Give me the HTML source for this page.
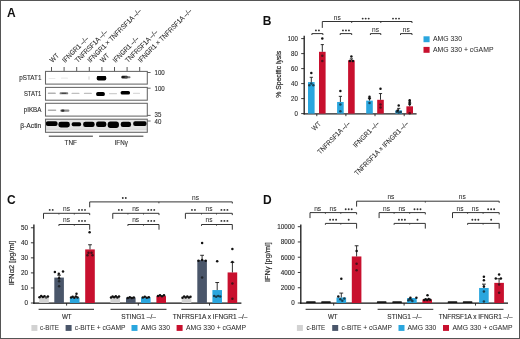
<!DOCTYPE html>
<html><head><meta charset="utf-8"><style>
html,body{margin:0;padding:0;background:#fff;}
svg{display:block;font-family:"Liberation Sans", sans-serif;}
text{opacity:0.995;}
</style></head><body>
<svg width="520" height="339" viewBox="0 0 520 339">
<rect width="520" height="339" fill="#fff"/>
<g>
<rect x="0.5" y="0.5" width="519" height="338" fill="none" stroke="#555" stroke-width="1"/>
<text class="h" x="7" y="16.8" font-size="12" text-anchor="start" font-weight="bold" fill="#111" >A</text>
<line x1="51.5" y1="67" x2="51.5" y2="71.4" stroke="#444" stroke-width="0.9"/>
<text transform="translate(52.5,63.0) rotate(-45)" font-size="7.06" text-anchor="start" font-weight="normal" fill="#2a2a2a" stroke="#2a2a2a" stroke-width="0.08" textLength="9.79" lengthAdjust="spacingAndGlyphs" >WT</text>
<line x1="64.1" y1="67" x2="64.1" y2="71.4" stroke="#444" stroke-width="0.9"/>
<text transform="translate(65.1,63.0) rotate(-45)" font-size="7.06" text-anchor="start" font-weight="normal" fill="#2a2a2a" stroke="#2a2a2a" stroke-width="0.08" textLength="33.61" lengthAdjust="spacingAndGlyphs" >IFNGR1 –/–</text>
<line x1="76.7" y1="67" x2="76.7" y2="71.4" stroke="#444" stroke-width="0.9"/>
<text transform="translate(77.7,63.0) rotate(-45)" font-size="7.06" text-anchor="start" font-weight="normal" fill="#2a2a2a" stroke="#2a2a2a" stroke-width="0.08" textLength="42.71" lengthAdjust="spacingAndGlyphs" >TNFRSF1A –/–</text>
<line x1="89.3" y1="67" x2="89.3" y2="71.4" stroke="#444" stroke-width="0.9"/>
<text transform="translate(90.3,63.0) rotate(-45)" font-size="7.06" text-anchor="start" font-weight="normal" fill="#2a2a2a" stroke="#2a2a2a" stroke-width="0.08" textLength="72.88" lengthAdjust="spacingAndGlyphs" >IFNGR1 × TNFRSF1A –/–</text>
<line x1="101.9" y1="67" x2="101.9" y2="71.4" stroke="#444" stroke-width="0.9"/>
<text transform="translate(102.9,63.0) rotate(-45)" font-size="7.06" text-anchor="start" font-weight="normal" fill="#2a2a2a" stroke="#2a2a2a" stroke-width="0.08" textLength="9.79" lengthAdjust="spacingAndGlyphs" >WT</text>
<line x1="114.5" y1="67" x2="114.5" y2="71.4" stroke="#444" stroke-width="0.9"/>
<text transform="translate(115.5,63.0) rotate(-45)" font-size="7.06" text-anchor="start" font-weight="normal" fill="#2a2a2a" stroke="#2a2a2a" stroke-width="0.08" textLength="33.61" lengthAdjust="spacingAndGlyphs" >IFNGR1 –/–</text>
<line x1="127.1" y1="67" x2="127.1" y2="71.4" stroke="#444" stroke-width="0.9"/>
<text transform="translate(128.1,63.0) rotate(-45)" font-size="7.06" text-anchor="start" font-weight="normal" fill="#2a2a2a" stroke="#2a2a2a" stroke-width="0.08" textLength="42.71" lengthAdjust="spacingAndGlyphs" >TNFRSF1A –/–</text>
<line x1="139.7" y1="67" x2="139.7" y2="71.4" stroke="#444" stroke-width="0.9"/>
<text transform="translate(140.7,63.0) rotate(-45)" font-size="7.06" text-anchor="start" font-weight="normal" fill="#2a2a2a" stroke="#2a2a2a" stroke-width="0.08" textLength="72.88" lengthAdjust="spacingAndGlyphs" >IFNGR1 × TNFRSF1A –/–</text>
<rect x="45.5" y="119.2" width="101.8" height="13.1" fill="#e2e2e2" />
<rect x="45.5" y="128.8" width="101.8" height="1.4" fill="#dadada" />
<rect x="45.5" y="130.2" width="101.8" height="2.1" fill="#f2f2f2" />
<defs><filter id="bl" x="-20%" y="-50%" width="140%" height="200%"><feGaussianBlur stdDeviation="0.45"/></filter><filter id="bl2" x="-20%" y="-50%" width="140%" height="200%"><feGaussianBlur stdDeviation="0.6"/></filter></defs>
<rect x="48.5" y="77.9" width="7" height="1.2" rx="0.6" fill="#ddd" opacity="0.6" filter="url(#bl2)"/>
<rect x="61" y="77.6" width="7" height="1.2" rx="0.6" fill="#ddd" opacity="0.6" filter="url(#bl2)"/>
<rect x="88" y="76" width="2" height="4" rx="2" fill="#ccc" opacity="0.5" filter="url(#bl2)"/>
<rect x="96.7" y="75.9" width="9.6" height="4.6" rx="1.8" fill="#000" opacity="1" filter="url(#bl)"/>
<rect x="97" y="76" width="9" height="2" rx="1" fill="#000" opacity="1" filter="url(#bl)"/>
<rect x="121.35" y="75.8" width="6.5" height="2.6" rx="1.2" fill="#111" opacity="0.95" filter="url(#bl)"/>
<rect x="124.5" y="76.2" width="6" height="2" rx="1" fill="#555" opacity="0.8" filter="url(#bl)"/>
<rect x="47.8" y="92.5" width="8" height="1.6" rx="0.7" fill="#999" opacity="0.75" filter="url(#bl2)"/>
<rect x="59.6" y="92.3" width="8.6" height="2" rx="0.9" fill="#666" opacity="0.85" filter="url(#bl2)"/>
<rect x="61.4" y="92.7" width="5" height="1.2" rx="0.6" fill="#333" opacity="0.7" filter="url(#bl2)"/>
<rect x="71.5" y="92.7" width="8" height="1.4" rx="0.6" fill="#aaa" opacity="0.75" filter="url(#bl2)"/>
<rect x="83.9" y="92.7" width="8" height="1.4" rx="0.6" fill="#aaa" opacity="0.75" filter="url(#bl2)"/>
<rect x="96.2" y="92" width="8.6" height="4" rx="1.6" fill="#000" opacity="1" filter="url(#bl)"/>
<rect x="109" y="93.05" width="8" height="1.1" rx="0.5" fill="#bbb" opacity="0.7" filter="url(#bl2)"/>
<rect x="120.6" y="90.9" width="9.4" height="3.6" rx="1.6" fill="#050505" opacity="1" filter="url(#bl)"/>
<rect x="133" y="92.85" width="7" height="1.1" rx="0.5" fill="#ccc" opacity="0.7" filter="url(#bl2)"/>
<rect x="47.75" y="109.5" width="8.5" height="1.4" rx="0.6" fill="#999" opacity="0.8" filter="url(#bl2)"/>
<rect x="60.2" y="109.5" width="9.2" height="2.2" rx="1" fill="#777" opacity="0.85" filter="url(#bl2)"/>
<rect x="61.2" y="109.6" width="3.2" height="2.2" rx="1" fill="#222" opacity="0.9" filter="url(#bl2)"/>
<rect x="45.8" y="121.3" width="11.8" height="4.8" rx="2.02" fill="#000" opacity="1" filter="url(#bl)"/>
<rect x="58.35" y="121.65" width="11.5" height="5.9" rx="2.48" fill="#000" opacity="1" filter="url(#bl)"/>
<rect x="71.65" y="122.35" width="9.5" height="3.9" rx="1.64" fill="#000" opacity="1" filter="url(#bl)"/>
<rect x="83.15" y="121.65" width="11.5" height="5.3" rx="2.23" fill="#000" opacity="1" filter="url(#bl)"/>
<rect x="96.05" y="121.45" width="10.3" height="5.5" rx="2.31" fill="#000" opacity="1" filter="url(#bl)"/>
<rect x="107.7" y="121.6" width="11.2" height="6.4" rx="2.69" fill="#000" opacity="1" filter="url(#bl)"/>
<rect x="120.7" y="121.8" width="10.4" height="5.2" rx="2.18" fill="#000" opacity="1" filter="url(#bl)"/>
<rect x="133.2" y="121.35" width="13.4" height="4.7" rx="1.97" fill="#000" opacity="1" filter="url(#bl)"/>
<rect x="45.5" y="71.4" width="101.8" height="12.7" fill="none" stroke="#666" stroke-width="1.05"/>
<text class="h" x="41.4" y="79.7" font-size="7.01" text-anchor="end" font-weight="normal" fill="#2b2b2b" stroke="#2b2b2b" stroke-width="0.12" textLength="22.1" lengthAdjust="spacingAndGlyphs" >pSTAT1</text>
<rect x="45.5" y="87.4" width="101.8" height="12.8" fill="none" stroke="#666" stroke-width="1.05"/>
<text class="h" x="41.4" y="95.6" font-size="7.01" text-anchor="end" font-weight="normal" fill="#2b2b2b" stroke="#2b2b2b" stroke-width="0.12" textLength="17.5" lengthAdjust="spacingAndGlyphs" >STAT1</text>
<rect x="45.5" y="103.3" width="101.8" height="12.8" fill="none" stroke="#666" stroke-width="1.05"/>
<text class="h" x="41.4" y="111.5" font-size="7.01" text-anchor="end" font-weight="normal" fill="#2b2b2b" stroke="#2b2b2b" stroke-width="0.12" textLength="17.7" lengthAdjust="spacingAndGlyphs" >pIKBA</text>
<rect x="45.5" y="119.2" width="101.8" height="13.1" fill="none" stroke="#666" stroke-width="1.05"/>
<text class="h" x="41.4" y="127.6" font-size="7.01" text-anchor="end" font-weight="normal" fill="#2b2b2b" stroke="#2b2b2b" stroke-width="0.12" textLength="21.2" lengthAdjust="spacingAndGlyphs" >β-Actin</text>
<line x1="147.3" y1="72.5" x2="150.6" y2="72.5" stroke="#555" stroke-width="0.9"/>
<text class="h" x="154.5" y="74.5" font-size="7.2" text-anchor="start" font-weight="normal" fill="#2b2b2b" stroke="#2b2b2b" stroke-width="0.12" textLength="10.18" lengthAdjust="spacingAndGlyphs" >100</text>
<line x1="147.3" y1="88.2" x2="150.6" y2="88.2" stroke="#555" stroke-width="0.9"/>
<text class="h" x="154.5" y="90.7" font-size="7.2" text-anchor="start" font-weight="normal" fill="#2b2b2b" stroke="#2b2b2b" stroke-width="0.12" textLength="10.18" lengthAdjust="spacingAndGlyphs" >100</text>
<line x1="147.3" y1="115.4" x2="150.6" y2="115.4" stroke="#555" stroke-width="0.9"/>
<text class="h" x="154.5" y="116.9" font-size="7.2" text-anchor="start" font-weight="normal" fill="#2b2b2b" stroke="#2b2b2b" stroke-width="0.12" textLength="6.79" lengthAdjust="spacingAndGlyphs" >35</text>
<line x1="147.3" y1="121" x2="150.6" y2="121" stroke="#555" stroke-width="0.9"/>
<text class="h" x="154.5" y="123.5" font-size="7.2" text-anchor="start" font-weight="normal" fill="#2b2b2b" stroke="#2b2b2b" stroke-width="0.12" textLength="6.79" lengthAdjust="spacingAndGlyphs" >40</text>
<line x1="48.8" y1="136.2" x2="92.9" y2="136.2" stroke="#333" stroke-width="1"/>
<line x1="99.1" y1="136.2" x2="143.4" y2="136.2" stroke="#333" stroke-width="1"/>
<text class="h" x="70.7" y="145.1" font-size="6.93" text-anchor="middle" font-weight="normal" fill="#2b2b2b" stroke="#2b2b2b" stroke-width="0.12" textLength="12.3" lengthAdjust="spacingAndGlyphs" >TNF</text>
<text class="h" x="121.2" y="145.1" font-size="6.93" text-anchor="middle" font-weight="normal" fill="#2b2b2b" stroke="#2b2b2b" stroke-width="0.12" textLength="13.2" lengthAdjust="spacingAndGlyphs" >IFNγ</text>
<text class="h" x="262.8" y="24.6" font-size="12" text-anchor="start" font-weight="bold" fill="#111" >B</text>
<line x1="304.2" y1="35.8" x2="304.2" y2="114.5" stroke="#222" stroke-width="1.35"/>
<line x1="301.2" y1="113.6" x2="304.2" y2="113.6" stroke="#222" stroke-width="0.9"/>
<text class="h" x="297.9" y="115.5" font-size="6.59" text-anchor="end" font-weight="normal" fill="#2b2b2b" stroke="#2b2b2b" stroke-width="0.12" textLength="3.39" lengthAdjust="spacingAndGlyphs" >0</text>
<line x1="301.2" y1="98.6" x2="304.2" y2="98.6" stroke="#222" stroke-width="0.9"/>
<text class="h" x="297.9" y="100.5" font-size="6.59" text-anchor="end" font-weight="normal" fill="#2b2b2b" stroke="#2b2b2b" stroke-width="0.12" textLength="6.79" lengthAdjust="spacingAndGlyphs" >20</text>
<line x1="301.2" y1="83.6" x2="304.2" y2="83.6" stroke="#222" stroke-width="0.9"/>
<text class="h" x="297.9" y="85.5" font-size="6.59" text-anchor="end" font-weight="normal" fill="#2b2b2b" stroke="#2b2b2b" stroke-width="0.12" textLength="6.79" lengthAdjust="spacingAndGlyphs" >40</text>
<line x1="301.2" y1="68.6" x2="304.2" y2="68.6" stroke="#222" stroke-width="0.9"/>
<text class="h" x="297.9" y="70.5" font-size="6.59" text-anchor="end" font-weight="normal" fill="#2b2b2b" stroke="#2b2b2b" stroke-width="0.12" textLength="6.79" lengthAdjust="spacingAndGlyphs" >60</text>
<line x1="301.2" y1="53.6" x2="304.2" y2="53.6" stroke="#222" stroke-width="0.9"/>
<text class="h" x="297.9" y="55.5" font-size="6.59" text-anchor="end" font-weight="normal" fill="#2b2b2b" stroke="#2b2b2b" stroke-width="0.12" textLength="6.79" lengthAdjust="spacingAndGlyphs" >80</text>
<line x1="301.2" y1="38.6" x2="304.2" y2="38.6" stroke="#222" stroke-width="0.9"/>
<text class="h" x="297.9" y="40.5" font-size="6.59" text-anchor="end" font-weight="normal" fill="#2b2b2b" stroke="#2b2b2b" stroke-width="0.12" textLength="10.18" lengthAdjust="spacingAndGlyphs" >100</text>
<line x1="303.6" y1="113.9" x2="416.6" y2="113.9" stroke="#222" stroke-width="1.35"/>
<text transform="translate(280.9,74.3) rotate(-90)" font-size="7.8" text-anchor="middle" font-weight="normal" fill="#2b2b2b" stroke="#2b2b2b" stroke-width="0.22" textLength="47" lengthAdjust="spacingAndGlyphs" >% Specific lysis</text>
<line x1="316.8" y1="114" x2="316.8" y2="116.2" stroke="#222" stroke-width="0.9"/>
<line x1="345.9" y1="114" x2="345.9" y2="116.2" stroke="#222" stroke-width="0.9"/>
<line x1="375" y1="114" x2="375" y2="116.2" stroke="#222" stroke-width="0.9"/>
<line x1="404.2" y1="114" x2="404.2" y2="116.2" stroke="#222" stroke-width="0.9"/>
<rect x="308" y="82.1" width="6.6" height="31.5" fill="#2aa6de" />
<line x1="311.3" y1="77.3" x2="311.3" y2="82.1" stroke="#1a1a1a" stroke-width="0.9"/>
<line x1="309.7" y1="77.3" x2="312.9" y2="77.3" stroke="#1a1a1a" stroke-width="0.9"/>
<circle cx="311.3" cy="73.1" r="1.25" fill="#111"/>
<circle cx="309.3" cy="85.32" r="1.25" fill="#1a4559"/>
<circle cx="313.3" cy="85.32" r="1.25" fill="#1a4559"/>
<circle cx="311.3" cy="83.6" r="1.25" fill="#1a4559"/>
<rect x="319" y="51.8" width="6.6" height="61.8" fill="#c8102e" />
<line x1="322.3" y1="44.6" x2="322.3" y2="51.8" stroke="#1a1a1a" stroke-width="0.9"/>
<line x1="320.7" y1="44.6" x2="323.9" y2="44.6" stroke="#1a1a1a" stroke-width="0.9"/>
<circle cx="322.3" cy="38.6" r="1.25" fill="#111"/>
<circle cx="322.3" cy="55.85" r="1.25" fill="#51111b"/>
<circle cx="322.3" cy="61.1" r="1.25" fill="#51111b"/>
<rect x="337.1" y="101.97" width="6.6" height="11.62" fill="#2aa6de" />
<line x1="340.4" y1="96.35" x2="340.4" y2="101.97" stroke="#1a1a1a" stroke-width="0.9"/>
<line x1="338.8" y1="96.35" x2="342" y2="96.35" stroke="#1a1a1a" stroke-width="0.9"/>
<circle cx="340.4" cy="91.1" r="1.25" fill="#111"/>
<circle cx="340.4" cy="104.6" r="1.25" fill="#1a4559"/>
<circle cx="340.4" cy="111.35" r="1.25" fill="#1a4559"/>
<rect x="348.1" y="60.35" width="6.6" height="53.25" fill="#c8102e" />
<line x1="351.4" y1="58.85" x2="351.4" y2="60.35" stroke="#1a1a1a" stroke-width="0.9"/>
<line x1="349.8" y1="58.85" x2="353" y2="58.85" stroke="#1a1a1a" stroke-width="0.9"/>
<circle cx="351.4" cy="56.6" r="1.25" fill="#111"/>
<circle cx="349.9" cy="61.1" r="1.25" fill="#111"/>
<circle cx="352.9" cy="61.1" r="1.25" fill="#111"/>
<rect x="366.2" y="100.62" width="6.6" height="12.97" fill="#2aa6de" />
<line x1="369.5" y1="98.22" x2="369.5" y2="100.62" stroke="#1a1a1a" stroke-width="0.9"/>
<line x1="367.9" y1="98.22" x2="371.1" y2="98.22" stroke="#1a1a1a" stroke-width="0.9"/>
<circle cx="369.5" cy="96.72" r="1.25" fill="#111"/>
<circle cx="369.5" cy="98.6" r="1.25" fill="#111"/>
<circle cx="369.5" cy="103.1" r="1.25" fill="#1a4559"/>
<rect x="377.2" y="99.8" width="6.6" height="13.8" fill="#c8102e" />
<line x1="380.5" y1="93.57" x2="380.5" y2="99.8" stroke="#1a1a1a" stroke-width="0.9"/>
<line x1="378.9" y1="93.57" x2="382.1" y2="93.57" stroke="#1a1a1a" stroke-width="0.9"/>
<circle cx="380.5" cy="88.85" r="1.25" fill="#111"/>
<circle cx="380.5" cy="104.6" r="1.25" fill="#51111b"/>
<circle cx="380.5" cy="107.6" r="1.25" fill="#51111b"/>
<rect x="395.4" y="110.38" width="6.6" height="3.22" fill="#2aa6de" />
<line x1="398.7" y1="108.35" x2="398.7" y2="110.38" stroke="#1a1a1a" stroke-width="0.9"/>
<line x1="397.1" y1="108.35" x2="400.3" y2="108.35" stroke="#1a1a1a" stroke-width="0.9"/>
<circle cx="398.7" cy="105.57" r="1.25" fill="#111"/>
<circle cx="396.7" cy="111.72" r="1.25" fill="#1a4559"/>
<circle cx="398.7" cy="112.47" r="1.25" fill="#1a4559"/>
<circle cx="400.7" cy="111.95" r="1.25" fill="#1a4559"/>
<circle cx="397.7" cy="110.6" r="1.25" fill="#111"/>
<rect x="406.4" y="106.32" width="6.6" height="7.28" fill="#c8102e" />
<line x1="409.7" y1="103.1" x2="409.7" y2="106.32" stroke="#1a1a1a" stroke-width="0.9"/>
<line x1="408.1" y1="103.1" x2="411.3" y2="103.1" stroke="#1a1a1a" stroke-width="0.9"/>
<circle cx="409.7" cy="100.32" r="1.25" fill="#111"/>
<circle cx="409.7" cy="101.97" r="1.25" fill="#111"/>
<circle cx="409.7" cy="104.22" r="1.25" fill="#111"/>
<circle cx="409.7" cy="113.22" r="1.25" fill="#51111b"/>
<text transform="translate(321.4,124.2) rotate(-45)" font-size="7" text-anchor="end" font-weight="normal" fill="#2a2a2a" stroke="#2a2a2a" stroke-width="0.06" textLength="9.8" lengthAdjust="spacingAndGlyphs" >WT</text>
<text transform="translate(350.5,124.2) rotate(-45)" font-size="7" text-anchor="end" font-weight="normal" fill="#2a2a2a" stroke="#2a2a2a" stroke-width="0.06" textLength="42.73" lengthAdjust="spacingAndGlyphs" >TNFRSF1A –/–</text>
<text transform="translate(379.6,124.2) rotate(-45)" font-size="7" text-anchor="end" font-weight="normal" fill="#2a2a2a" stroke="#2a2a2a" stroke-width="0.06" textLength="33.63" lengthAdjust="spacingAndGlyphs" >IFNGR1 –/–</text>
<text transform="translate(408.8,124.2) rotate(-45)" font-size="7" text-anchor="end" font-weight="normal" fill="#2a2a2a" stroke="#2a2a2a" stroke-width="0.06" textLength="73.03" lengthAdjust="spacingAndGlyphs" >TNFRSF1A × IFNGR1 –/–</text>
<polyline points="322.3,27.9 322.3,21.5 412,21.5 412,23" fill="none" stroke="#333" stroke-width="1"/>
<line x1="351.7" y1="21.5" x2="351.7" y2="23" stroke="#333" stroke-width="0.9"/>
<line x1="380.8" y1="21.5" x2="380.8" y2="23" stroke="#333" stroke-width="0.9"/>
<text class="h" x="337.3" y="20.2" font-size="6.6" text-anchor="middle" font-weight="normal" fill="#2b2b2b" stroke="#2b2b2b" stroke-width="0.04" >ns</text>
<circle cx="362.7" cy="18.6" r="0.95" fill="#333"/>
<circle cx="365.7" cy="18.6" r="0.95" fill="#333"/>
<circle cx="368.7" cy="18.6" r="0.95" fill="#333"/>
<circle cx="393" cy="18.6" r="0.95" fill="#333"/>
<circle cx="396" cy="18.6" r="0.95" fill="#333"/>
<circle cx="399" cy="18.6" r="0.95" fill="#333"/>
<polyline points="311.9,35 311.9,33.6 322.9,33.6 322.9,35" fill="none" stroke="#333" stroke-width="1"/>
<circle cx="315.9" cy="30.4" r="0.95" fill="#333"/>
<circle cx="318.9" cy="30.4" r="0.95" fill="#333"/>
<polyline points="340.2,35 340.2,33.6 351.7,33.6 351.7,35" fill="none" stroke="#333" stroke-width="1"/>
<circle cx="342.95" cy="30.4" r="0.95" fill="#333"/>
<circle cx="345.95" cy="30.4" r="0.95" fill="#333"/>
<circle cx="348.95" cy="30.4" r="0.95" fill="#333"/>
<polyline points="370.4,35 370.4,33.6 380.8,33.6 380.8,35" fill="none" stroke="#333" stroke-width="1"/>
<text class="h" x="375.6" y="32" font-size="6.6" text-anchor="middle" font-weight="normal" fill="#2b2b2b" stroke="#2b2b2b" stroke-width="0.04" >ns</text>
<polyline points="400.5,35 400.5,33.6 412,33.6 412,35" fill="none" stroke="#333" stroke-width="1"/>
<text class="h" x="406.25" y="32" font-size="6.6" text-anchor="middle" font-weight="normal" fill="#2b2b2b" stroke="#2b2b2b" stroke-width="0.04" >ns</text>
<rect x="423.5" y="36.3" width="6.1" height="5.9" fill="#2aa6de" />
<rect x="423.5" y="46.9" width="6.1" height="5.9" fill="#c8102e" />
<text class="h" x="433" y="41" font-size="6.8" text-anchor="start" font-weight="normal" fill="#2b2b2b" stroke="#2b2b2b" stroke-width="0.03" textLength="29" lengthAdjust="spacingAndGlyphs" >AMG 330</text>
<text class="h" x="433" y="51.6" font-size="6.8" text-anchor="start" font-weight="normal" fill="#2b2b2b" stroke="#2b2b2b" stroke-width="0.03" textLength="60.5" lengthAdjust="spacingAndGlyphs" >AMG 330 + cGAMP</text>
<text class="h" x="7" y="204" font-size="12" text-anchor="start" font-weight="bold" fill="#111" >C</text>
<line x1="33.9" y1="224.4" x2="33.9" y2="303.8" stroke="#1e1e1e" stroke-width="1.35"/>
<line x1="30.9" y1="303" x2="33.9" y2="303" stroke="#222" stroke-width="0.9"/>
<text class="h" x="27.9" y="305.3" font-size="7.24" text-anchor="end" font-weight="normal" fill="#2b2b2b" stroke="#2b2b2b" stroke-width="0.14" textLength="3.5" lengthAdjust="spacingAndGlyphs" >0</text>
<line x1="30.9" y1="287.95" x2="33.9" y2="287.95" stroke="#222" stroke-width="0.9"/>
<text class="h" x="27.9" y="290.25" font-size="7.24" text-anchor="end" font-weight="normal" fill="#2b2b2b" stroke="#2b2b2b" stroke-width="0.14" textLength="7.01" lengthAdjust="spacingAndGlyphs" >10</text>
<line x1="30.9" y1="272.9" x2="33.9" y2="272.9" stroke="#222" stroke-width="0.9"/>
<text class="h" x="27.9" y="275.2" font-size="7.24" text-anchor="end" font-weight="normal" fill="#2b2b2b" stroke="#2b2b2b" stroke-width="0.14" textLength="7.01" lengthAdjust="spacingAndGlyphs" >20</text>
<line x1="30.9" y1="257.85" x2="33.9" y2="257.85" stroke="#222" stroke-width="0.9"/>
<text class="h" x="27.9" y="260.15" font-size="7.24" text-anchor="end" font-weight="normal" fill="#2b2b2b" stroke="#2b2b2b" stroke-width="0.14" textLength="7.01" lengthAdjust="spacingAndGlyphs" >30</text>
<line x1="30.9" y1="242.8" x2="33.9" y2="242.8" stroke="#222" stroke-width="0.9"/>
<text class="h" x="27.9" y="245.1" font-size="7.24" text-anchor="end" font-weight="normal" fill="#2b2b2b" stroke="#2b2b2b" stroke-width="0.14" textLength="7.01" lengthAdjust="spacingAndGlyphs" >40</text>
<line x1="30.9" y1="227.75" x2="33.9" y2="227.75" stroke="#222" stroke-width="0.9"/>
<text class="h" x="27.9" y="230.05" font-size="7.24" text-anchor="end" font-weight="normal" fill="#2b2b2b" stroke="#2b2b2b" stroke-width="0.14" textLength="7.01" lengthAdjust="spacingAndGlyphs" >50</text>
<text transform="translate(14.3,263) rotate(-90)" font-size="7" text-anchor="middle" font-weight="normal" fill="#2b2b2b" stroke="#2b2b2b" stroke-width="0.16" textLength="44.6" lengthAdjust="spacingAndGlyphs" >IFNα2 [pg/ml]</text>
<line x1="33.3" y1="303.2" x2="241.4" y2="303.2" stroke="#111" stroke-width="1.3"/>
<line x1="66.6" y1="303" x2="66.6" y2="305.6" stroke="#222" stroke-width="0.9"/>
<line x1="138.3" y1="303" x2="138.3" y2="305.6" stroke="#222" stroke-width="0.9"/>
<line x1="209.5" y1="303" x2="209.5" y2="305.6" stroke="#222" stroke-width="0.9"/>
<rect x="39.2" y="296.53" width="9.6" height="6.47" fill="#d2d2d2" />
<circle cx="39.5" cy="297.28" r="1.25" fill="#111"/>
<circle cx="41.2" cy="295.93" r="1.25" fill="#111"/>
<circle cx="42.9" cy="296.98" r="1.25" fill="#111"/>
<circle cx="44.5" cy="296.23" r="1.25" fill="#111"/>
<circle cx="46.2" cy="297.43" r="1.25" fill="#4b4b4b"/>
<circle cx="47.9" cy="296.38" r="1.25" fill="#111"/>
<rect x="54.3" y="277.57" width="9.6" height="25.43" fill="#4a566a" />
<line x1="59.1" y1="275.16" x2="59.1" y2="277.57" stroke="#1a1a1a" stroke-width="0.9"/>
<line x1="57.2" y1="275.16" x2="61" y2="275.16" stroke="#1a1a1a" stroke-width="0.9"/>
<circle cx="54.9" cy="272" r="1.25" fill="#111"/>
<circle cx="63" cy="271.39" r="1.25" fill="#111"/>
<circle cx="58.8" cy="273.8" r="1.25" fill="#111"/>
<circle cx="59.1" cy="278.17" r="1.25" fill="#111"/>
<circle cx="59.1" cy="281.18" r="1.25" fill="#22262c"/>
<circle cx="59.1" cy="286.29" r="1.25" fill="#22262c"/>
<rect x="69.9" y="297.73" width="9.6" height="5.27" fill="#2aa6de" />
<circle cx="71.1" cy="297.58" r="1.25" fill="#111"/>
<circle cx="72.7" cy="296.68" r="1.25" fill="#111"/>
<circle cx="74.3" cy="297.73" r="1.25" fill="#111"/>
<circle cx="75.9" cy="296.53" r="1.25" fill="#111"/>
<circle cx="77.5" cy="297.58" r="1.25" fill="#111"/>
<circle cx="76.5" cy="293.82" r="1.25" fill="#111"/>
<rect x="85.2" y="249.42" width="9.6" height="53.58" fill="#c8102e" />
<line x1="90" y1="244.76" x2="90" y2="249.42" stroke="#1a1a1a" stroke-width="0.9"/>
<line x1="88.1" y1="244.76" x2="91.9" y2="244.76" stroke="#1a1a1a" stroke-width="0.9"/>
<circle cx="89.6" cy="232.26" r="1.25" fill="#111"/>
<circle cx="88.5" cy="252.73" r="1.25" fill="#48111a"/>
<circle cx="91.5" cy="252.73" r="1.25" fill="#48111a"/>
<circle cx="87.5" cy="255.14" r="1.25" fill="#48111a"/>
<circle cx="92.5" cy="255.14" r="1.25" fill="#48111a"/>
<rect x="110.4" y="297.13" width="9.6" height="5.87" fill="#d2d2d2" />
<circle cx="111" cy="297.58" r="1.25" fill="#111"/>
<circle cx="112.6" cy="296.38" r="1.25" fill="#111"/>
<circle cx="114.2" cy="297.28" r="1.25" fill="#111"/>
<circle cx="115.8" cy="296.23" r="1.25" fill="#111"/>
<circle cx="117.4" cy="297.43" r="1.25" fill="#111"/>
<circle cx="119" cy="296.53" r="1.25" fill="#111"/>
<rect x="126" y="297.58" width="9.6" height="5.42" fill="#4a566a" />
<circle cx="127.8" cy="297.88" r="1.25" fill="#111"/>
<circle cx="129.8" cy="297.28" r="1.25" fill="#111"/>
<circle cx="131.8" cy="298.03" r="1.25" fill="#111"/>
<circle cx="133.8" cy="297.43" r="1.25" fill="#111"/>
<rect x="141" y="297.58" width="9.6" height="5.42" fill="#2aa6de" />
<circle cx="142.8" cy="297.58" r="1.25" fill="#111"/>
<circle cx="144.8" cy="296.83" r="1.25" fill="#111"/>
<circle cx="146.8" cy="297.73" r="1.25" fill="#111"/>
<circle cx="148.8" cy="297.13" r="1.25" fill="#111"/>
<rect x="156.4" y="296.08" width="9.6" height="6.92" fill="#c8102e" />
<circle cx="158" cy="296.08" r="1.25" fill="#111"/>
<circle cx="160" cy="295.17" r="1.25" fill="#111"/>
<circle cx="162" cy="296.23" r="1.25" fill="#111"/>
<circle cx="164" cy="295.32" r="1.25" fill="#111"/>
<rect x="181.7" y="297.28" width="9.6" height="5.72" fill="#d2d2d2" />
<circle cx="182.5" cy="297.73" r="1.25" fill="#111"/>
<circle cx="184.1" cy="296.53" r="1.25" fill="#111"/>
<circle cx="185.7" cy="297.58" r="1.25" fill="#111"/>
<circle cx="187.3" cy="296.38" r="1.25" fill="#111"/>
<circle cx="188.9" cy="297.58" r="1.25" fill="#111"/>
<circle cx="190.5" cy="296.68" r="1.25" fill="#111"/>
<rect x="197.3" y="260.11" width="9.6" height="42.89" fill="#4a566a" />
<line x1="202.1" y1="255.29" x2="202.1" y2="260.11" stroke="#1a1a1a" stroke-width="0.9"/>
<line x1="200.2" y1="255.29" x2="204" y2="255.29" stroke="#1a1a1a" stroke-width="0.9"/>
<circle cx="202.1" cy="243.1" r="1.25" fill="#111"/>
<circle cx="198.5" cy="260.71" r="1.25" fill="#111"/>
<circle cx="205.7" cy="260.71" r="1.25" fill="#111"/>
<circle cx="202.1" cy="260.11" r="1.25" fill="#111"/>
<circle cx="202.1" cy="277.42" r="1.25" fill="#22262c"/>
<rect x="212.4" y="290.06" width="9.6" height="12.94" fill="#2aa6de" />
<line x1="217.2" y1="282.53" x2="217.2" y2="290.06" stroke="#1a1a1a" stroke-width="0.9"/>
<line x1="215.3" y1="282.53" x2="219.1" y2="282.53" stroke="#1a1a1a" stroke-width="0.9"/>
<circle cx="217.2" cy="261.31" r="1.25" fill="#111"/>
<circle cx="214.2" cy="296.08" r="1.25" fill="#183e4e"/>
<circle cx="216.2" cy="296.68" r="1.25" fill="#183e4e"/>
<circle cx="218.2" cy="296.08" r="1.25" fill="#183e4e"/>
<circle cx="220.2" cy="296.38" r="1.25" fill="#183e4e"/>
<rect x="227.6" y="272.45" width="9.6" height="30.55" fill="#c8102e" />
<line x1="232.4" y1="262.37" x2="232.4" y2="272.45" stroke="#1a1a1a" stroke-width="0.9"/>
<line x1="230.5" y1="262.37" x2="234.3" y2="262.37" stroke="#1a1a1a" stroke-width="0.9"/>
<circle cx="232.4" cy="249.12" r="1.25" fill="#111"/>
<circle cx="232.4" cy="262.06" r="1.25" fill="#111"/>
<circle cx="232.4" cy="283.44" r="1.25" fill="#48111a"/>
<circle cx="232.4" cy="298.79" r="1.25" fill="#48111a"/>
<line x1="38.6" y1="309.3" x2="94" y2="309.3" stroke="#222" stroke-width="1"/>
<text class="h" x="66.8" y="318.6" font-size="6.62" text-anchor="middle" font-weight="normal" fill="#2b2b2b" stroke="#2b2b2b" stroke-width="0.12" textLength="9.79" lengthAdjust="spacingAndGlyphs" >WT</text>
<line x1="110.5" y1="309.3" x2="166.5" y2="309.3" stroke="#222" stroke-width="1"/>
<text class="h" x="138.6" y="318.6" font-size="6.62" text-anchor="middle" font-weight="normal" fill="#2b2b2b" stroke="#2b2b2b" stroke-width="0.12" textLength="34.6" lengthAdjust="spacingAndGlyphs" >STING1 –/–</text>
<line x1="181.3" y1="309.3" x2="236.9" y2="309.3" stroke="#222" stroke-width="1"/>
<text class="h" x="210.1" y="318.6" font-size="6.62" text-anchor="middle" font-weight="normal" fill="#2b2b2b" stroke="#2b2b2b" stroke-width="0.12" textLength="74.7" lengthAdjust="spacingAndGlyphs" >TNFRSF1A x IFNGR1 –/–</text>
<polyline points="43.5,218.8 43.5,213.3 89.7,213.3 89.7,215.1" fill="none" stroke="#333" stroke-width="1"/>
<line x1="58.9" y1="213.3" x2="58.9" y2="214.5" stroke="#333" stroke-width="0.9"/>
<line x1="74.3" y1="213.3" x2="74.3" y2="214.5" stroke="#333" stroke-width="0.9"/>
<polyline points="58.9,225.9 58.9,224.5 89.7,224.5 89.7,229.7" fill="none" stroke="#333" stroke-width="1"/>
<line x1="74.3" y1="224.5" x2="74.3" y2="225.7" stroke="#333" stroke-width="0.9"/>
<circle cx="49.7" cy="209.9" r="0.95" fill="#333"/>
<circle cx="52.7" cy="209.9" r="0.95" fill="#333"/>
<text class="h" x="66.6" y="211.3" font-size="6.6" text-anchor="middle" font-weight="normal" fill="#2b2b2b" stroke="#2b2b2b" stroke-width="0.04" >ns</text>
<circle cx="79" cy="209.9" r="0.95" fill="#333"/>
<circle cx="82" cy="209.9" r="0.95" fill="#333"/>
<circle cx="85" cy="209.9" r="0.95" fill="#333"/>
<text class="h" x="66.6" y="222.4" font-size="6.6" text-anchor="middle" font-weight="normal" fill="#2b2b2b" stroke="#2b2b2b" stroke-width="0.04" >ns</text>
<circle cx="79" cy="220.9" r="0.95" fill="#333"/>
<circle cx="82" cy="220.9" r="0.95" fill="#333"/>
<circle cx="85" cy="220.9" r="0.95" fill="#333"/>
<polyline points="112.75,218.8 112.75,213.3 159,213.3 159,215.1" fill="none" stroke="#333" stroke-width="1"/>
<line x1="127.9" y1="213.3" x2="127.9" y2="214.5" stroke="#333" stroke-width="0.9"/>
<line x1="143.5" y1="213.3" x2="143.5" y2="214.5" stroke="#333" stroke-width="0.9"/>
<polyline points="127.9,225.9 127.9,224.5 159,224.5 159,229.7" fill="none" stroke="#333" stroke-width="1"/>
<line x1="143.5" y1="224.5" x2="143.5" y2="225.7" stroke="#333" stroke-width="0.9"/>
<circle cx="118.83" cy="209.9" r="0.95" fill="#333"/>
<circle cx="121.83" cy="209.9" r="0.95" fill="#333"/>
<text class="h" x="135.7" y="211.3" font-size="6.6" text-anchor="middle" font-weight="normal" fill="#2b2b2b" stroke="#2b2b2b" stroke-width="0.04" >ns</text>
<circle cx="148.25" cy="209.9" r="0.95" fill="#333"/>
<circle cx="151.25" cy="209.9" r="0.95" fill="#333"/>
<circle cx="154.25" cy="209.9" r="0.95" fill="#333"/>
<text class="h" x="135.7" y="222.4" font-size="6.6" text-anchor="middle" font-weight="normal" fill="#2b2b2b" stroke="#2b2b2b" stroke-width="0.04" >ns</text>
<circle cx="148.25" cy="220.9" r="0.95" fill="#333"/>
<circle cx="151.25" cy="220.9" r="0.95" fill="#333"/>
<circle cx="154.25" cy="220.9" r="0.95" fill="#333"/>
<polyline points="185.4,218.8 185.4,213.3 232.3,213.3 232.3,215.1" fill="none" stroke="#333" stroke-width="1"/>
<line x1="201.5" y1="213.3" x2="201.5" y2="214.5" stroke="#333" stroke-width="0.9"/>
<line x1="216.5" y1="213.3" x2="216.5" y2="214.5" stroke="#333" stroke-width="0.9"/>
<polyline points="201.5,225.9 201.5,224.5 232.3,224.5 232.3,229.7" fill="none" stroke="#333" stroke-width="1"/>
<line x1="216.5" y1="224.5" x2="216.5" y2="225.7" stroke="#333" stroke-width="0.9"/>
<circle cx="191.95" cy="209.9" r="0.95" fill="#333"/>
<circle cx="194.95" cy="209.9" r="0.95" fill="#333"/>
<text class="h" x="209" y="211.3" font-size="6.6" text-anchor="middle" font-weight="normal" fill="#2b2b2b" stroke="#2b2b2b" stroke-width="0.04" >ns</text>
<circle cx="221.4" cy="209.9" r="0.95" fill="#333"/>
<circle cx="224.4" cy="209.9" r="0.95" fill="#333"/>
<circle cx="227.4" cy="209.9" r="0.95" fill="#333"/>
<text class="h" x="209" y="222.4" font-size="6.6" text-anchor="middle" font-weight="normal" fill="#2b2b2b" stroke="#2b2b2b" stroke-width="0.04" >ns</text>
<circle cx="221.4" cy="220.9" r="0.95" fill="#333"/>
<circle cx="224.4" cy="220.9" r="0.95" fill="#333"/>
<circle cx="227.4" cy="220.9" r="0.95" fill="#333"/>
<polyline points="89.7,207.3 89.7,201.9 232.3,201.9 232.3,203.5" fill="none" stroke="#333" stroke-width="1"/>
<line x1="158.9" y1="201.9" x2="158.9" y2="203.3" stroke="#333" stroke-width="0.9"/>
<circle cx="122.8" cy="198" r="0.95" fill="#333"/>
<circle cx="125.8" cy="198" r="0.95" fill="#333"/>
<text class="h" x="195.6" y="199.8" font-size="6.6" text-anchor="middle" font-weight="normal" fill="#2b2b2b" stroke="#2b2b2b" stroke-width="0.04" >ns</text>
<rect x="31.4" y="325" width="6" height="5.9" fill="#d2d2d2" />
<text class="h" x="40.1" y="330.3" font-size="6.4" text-anchor="start" font-weight="normal" fill="#2b2b2b" stroke="#2b2b2b" stroke-width="0.03" textLength="18.8" lengthAdjust="spacingAndGlyphs" >c-BiTE</text>
<rect x="65.6" y="325" width="6" height="5.9" fill="#4a566a" />
<text class="h" x="74.8" y="330.3" font-size="6.4" text-anchor="start" font-weight="normal" fill="#2b2b2b" stroke="#2b2b2b" stroke-width="0.03" textLength="50.7" lengthAdjust="spacingAndGlyphs" >c-BiTE + cGAMP</text>
<rect x="131.5" y="325" width="6" height="5.9" fill="#2aa6de" />
<text class="h" x="141" y="330.3" font-size="6.4" text-anchor="start" font-weight="normal" fill="#2b2b2b" stroke="#2b2b2b" stroke-width="0.03" textLength="29" lengthAdjust="spacingAndGlyphs" >AMG 330</text>
<rect x="176.6" y="325" width="6" height="5.9" fill="#c8102e" />
<text class="h" x="185.9" y="330.3" font-size="6.4" text-anchor="start" font-weight="normal" fill="#2b2b2b" stroke="#2b2b2b" stroke-width="0.03" textLength="60.2" lengthAdjust="spacingAndGlyphs" >AMG 330 + cGAMP</text>
<text class="h" x="263" y="204" font-size="12" text-anchor="start" font-weight="bold" fill="#111" >D</text>
<line x1="300.8" y1="224.4" x2="300.8" y2="303.8" stroke="#1e1e1e" stroke-width="1.35"/>
<line x1="297.8" y1="303" x2="300.8" y2="303" stroke="#222" stroke-width="0.9"/>
<text class="h" x="294.8" y="305.3" font-size="7.24" text-anchor="end" font-weight="normal" fill="#2b2b2b" stroke="#2b2b2b" stroke-width="0.14" textLength="3.5" lengthAdjust="spacingAndGlyphs" >0</text>
<line x1="297.8" y1="287.74" x2="300.8" y2="287.74" stroke="#222" stroke-width="0.9"/>
<text class="h" x="294.8" y="290.04" font-size="7.24" text-anchor="end" font-weight="normal" fill="#2b2b2b" stroke="#2b2b2b" stroke-width="0.14" textLength="14.02" lengthAdjust="spacingAndGlyphs" >2000</text>
<line x1="297.8" y1="272.48" x2="300.8" y2="272.48" stroke="#222" stroke-width="0.9"/>
<text class="h" x="294.8" y="274.78" font-size="7.24" text-anchor="end" font-weight="normal" fill="#2b2b2b" stroke="#2b2b2b" stroke-width="0.14" textLength="14.02" lengthAdjust="spacingAndGlyphs" >4000</text>
<line x1="297.8" y1="257.22" x2="300.8" y2="257.22" stroke="#222" stroke-width="0.9"/>
<text class="h" x="294.8" y="259.52" font-size="7.24" text-anchor="end" font-weight="normal" fill="#2b2b2b" stroke="#2b2b2b" stroke-width="0.14" textLength="14.02" lengthAdjust="spacingAndGlyphs" >6000</text>
<line x1="297.8" y1="241.96" x2="300.8" y2="241.96" stroke="#222" stroke-width="0.9"/>
<text class="h" x="294.8" y="244.26" font-size="7.24" text-anchor="end" font-weight="normal" fill="#2b2b2b" stroke="#2b2b2b" stroke-width="0.14" textLength="14.02" lengthAdjust="spacingAndGlyphs" >8000</text>
<line x1="297.8" y1="226.7" x2="300.8" y2="226.7" stroke="#222" stroke-width="0.9"/>
<text class="h" x="294.8" y="229" font-size="7.24" text-anchor="end" font-weight="normal" fill="#2b2b2b" stroke="#2b2b2b" stroke-width="0.14" textLength="17.52" lengthAdjust="spacingAndGlyphs" >10000</text>
<text transform="translate(269.6,262.2) rotate(-90)" font-size="7" text-anchor="middle" font-weight="normal" fill="#2b2b2b" stroke="#2b2b2b" stroke-width="0.16" textLength="39.8" lengthAdjust="spacingAndGlyphs" >IFNγ [pg/ml]</text>
<line x1="300.2" y1="303.2" x2="508" y2="303.2" stroke="#111" stroke-width="1.3"/>
<line x1="333.7" y1="303" x2="333.7" y2="305.6" stroke="#222" stroke-width="0.9"/>
<line x1="404.1" y1="303" x2="404.1" y2="305.6" stroke="#222" stroke-width="0.9"/>
<line x1="475.5" y1="303" x2="475.5" y2="305.6" stroke="#222" stroke-width="0.9"/>
<rect x="306.1" y="301.2" width="9.6" height="1.9" fill="#151515" rx="0.7"/>
<rect x="321.2" y="301.2" width="9.6" height="1.9" fill="#151515" rx="0.7"/>
<rect x="336.5" y="297.51" width="9.6" height="5.49" fill="#2aa6de" />
<line x1="341.3" y1="293.08" x2="341.3" y2="297.51" stroke="#1a1a1a" stroke-width="0.9"/>
<line x1="339.4" y1="293.08" x2="343.2" y2="293.08" stroke="#1a1a1a" stroke-width="0.9"/>
<circle cx="341.3" cy="278.81" r="1.25" fill="#111"/>
<circle cx="338.3" cy="296.51" r="1.25" fill="#111"/>
<circle cx="340.3" cy="299.19" r="1.25" fill="#183e4e"/>
<circle cx="342.3" cy="300.71" r="1.25" fill="#183e4e"/>
<circle cx="344.3" cy="298.42" r="1.25" fill="#183e4e"/>
<rect x="351.8" y="256.46" width="9.6" height="46.54" fill="#c8102e" />
<line x1="356.6" y1="245.78" x2="356.6" y2="256.46" stroke="#1a1a1a" stroke-width="0.9"/>
<line x1="354.7" y1="245.78" x2="358.5" y2="245.78" stroke="#1a1a1a" stroke-width="0.9"/>
<circle cx="356.6" cy="251.12" r="1.25" fill="#111"/>
<circle cx="356.6" cy="263.71" r="1.25" fill="#48111a"/>
<circle cx="356.6" cy="270.19" r="1.25" fill="#48111a"/>
<rect x="376.9" y="301.2" width="9.6" height="1.9" fill="#151515" rx="0.7"/>
<rect x="392.3" y="301.2" width="9.6" height="1.9" fill="#151515" rx="0.7"/>
<rect x="407.1" y="298.04" width="9.6" height="4.96" fill="#2aa6de" />
<circle cx="408.4" cy="300.33" r="1.25" fill="#183e4e"/>
<circle cx="409.4" cy="299.19" r="1.25" fill="#183e4e"/>
<circle cx="410.4" cy="297.66" r="1.25" fill="#111"/>
<circle cx="411.4" cy="299.95" r="1.25" fill="#183e4e"/>
<circle cx="416.4" cy="297.66" r="1.25" fill="#111"/>
<circle cx="412.4" cy="301.09" r="1.25" fill="#183e4e"/>
<rect x="422.4" y="299.49" width="9.6" height="3.51" fill="#c8102e" />
<circle cx="427.5" cy="295.22" r="1.25" fill="#111"/>
<circle cx="424.2" cy="299.95" r="1.25" fill="#111"/>
<circle cx="425.7" cy="299.19" r="1.25" fill="#111"/>
<circle cx="427.2" cy="300.1" r="1.25" fill="#111"/>
<circle cx="428.7" cy="299.03" r="1.25" fill="#111"/>
<circle cx="430.2" cy="299.8" r="1.25" fill="#111"/>
<rect x="447.7" y="301.2" width="9.6" height="1.9" fill="#151515" rx="0.7"/>
<rect x="462.8" y="301.2" width="9.6" height="1.9" fill="#151515" rx="0.7"/>
<rect x="479.1" y="287.97" width="9.6" height="15.03" fill="#2aa6de" />
<line x1="483.9" y1="284.15" x2="483.9" y2="287.97" stroke="#1a1a1a" stroke-width="0.9"/>
<line x1="482" y1="284.15" x2="485.8" y2="284.15" stroke="#1a1a1a" stroke-width="0.9"/>
<circle cx="483.9" cy="276.83" r="1.25" fill="#111"/>
<circle cx="483.9" cy="280.26" r="1.25" fill="#111"/>
<circle cx="483.9" cy="286.6" r="1.25" fill="#111"/>
<circle cx="483.9" cy="291.56" r="1.25" fill="#183e4e"/>
<circle cx="483.9" cy="301.47" r="1.25" fill="#183e4e"/>
<rect x="494.3" y="282.86" width="9.6" height="20.14" fill="#c8102e" />
<line x1="499.1" y1="278.74" x2="499.1" y2="282.86" stroke="#1a1a1a" stroke-width="0.9"/>
<line x1="497.2" y1="278.74" x2="501" y2="278.74" stroke="#1a1a1a" stroke-width="0.9"/>
<circle cx="499.1" cy="274.46" r="1.25" fill="#111"/>
<circle cx="495.8" cy="278.58" r="1.25" fill="#111"/>
<circle cx="500.9" cy="278.58" r="1.25" fill="#111"/>
<circle cx="499.1" cy="284.54" r="1.25" fill="#48111a"/>
<circle cx="499.1" cy="292.78" r="1.25" fill="#48111a"/>
<line x1="305.6" y1="309.3" x2="360.8" y2="309.3" stroke="#222" stroke-width="1"/>
<text class="h" x="332.8" y="318.6" font-size="6.62" text-anchor="middle" font-weight="normal" fill="#2b2b2b" stroke="#2b2b2b" stroke-width="0.12" textLength="9.79" lengthAdjust="spacingAndGlyphs" >WT</text>
<line x1="377.6" y1="309.3" x2="433.3" y2="309.3" stroke="#222" stroke-width="1"/>
<text class="h" x="404.5" y="318.6" font-size="6.62" text-anchor="middle" font-weight="normal" fill="#2b2b2b" stroke="#2b2b2b" stroke-width="0.12" textLength="34.3" lengthAdjust="spacingAndGlyphs" >STING1 –/–</text>
<line x1="448.1" y1="309.3" x2="503.5" y2="309.3" stroke="#222" stroke-width="1"/>
<text class="h" x="475.6" y="318.6" font-size="6.62" text-anchor="middle" font-weight="normal" fill="#2b2b2b" stroke="#2b2b2b" stroke-width="0.12" textLength="73.8" lengthAdjust="spacingAndGlyphs" >TNFRSF1A x IFNGR1 –/–</text>
<polyline points="310,218.1 310,212.6 356.6,212.6 356.6,214.4" fill="none" stroke="#333" stroke-width="1"/>
<line x1="325.4" y1="212.6" x2="325.4" y2="213.8" stroke="#333" stroke-width="0.9"/>
<line x1="340.8" y1="212.6" x2="340.8" y2="213.8" stroke="#333" stroke-width="0.9"/>
<polyline points="325.4,224.8 325.4,223.4 356.6,223.4 356.6,228.6" fill="none" stroke="#333" stroke-width="1"/>
<line x1="340.8" y1="223.4" x2="340.8" y2="224.6" stroke="#333" stroke-width="0.9"/>
<text class="h" x="317.7" y="210.6" font-size="6.6" text-anchor="middle" font-weight="normal" fill="#2b2b2b" stroke="#2b2b2b" stroke-width="0.04" >ns</text>
<text class="h" x="333.1" y="210.6" font-size="6.6" text-anchor="middle" font-weight="normal" fill="#2b2b2b" stroke="#2b2b2b" stroke-width="0.04" >ns</text>
<circle cx="345.7" cy="209.2" r="0.95" fill="#333"/>
<circle cx="348.7" cy="209.2" r="0.95" fill="#333"/>
<circle cx="351.7" cy="209.2" r="0.95" fill="#333"/>
<circle cx="330.1" cy="219.8" r="0.95" fill="#333"/>
<circle cx="333.1" cy="219.8" r="0.95" fill="#333"/>
<circle cx="336.1" cy="219.8" r="0.95" fill="#333"/>
<circle cx="348.7" cy="219.8" r="0.95" fill="#333"/>
<polyline points="379.1,218.1 379.1,212.6 425.3,212.6 425.3,214.4" fill="none" stroke="#333" stroke-width="1"/>
<line x1="394.1" y1="212.6" x2="394.1" y2="213.8" stroke="#333" stroke-width="0.9"/>
<line x1="409.7" y1="212.6" x2="409.7" y2="213.8" stroke="#333" stroke-width="0.9"/>
<polyline points="394.1,224.8 394.1,223.4 425.3,223.4 425.3,228.6" fill="none" stroke="#333" stroke-width="1"/>
<line x1="409.7" y1="223.4" x2="409.7" y2="224.6" stroke="#333" stroke-width="0.9"/>
<text class="h" x="386.6" y="210.6" font-size="6.6" text-anchor="middle" font-weight="normal" fill="#2b2b2b" stroke="#2b2b2b" stroke-width="0.04" >ns</text>
<text class="h" x="401.9" y="210.6" font-size="6.6" text-anchor="middle" font-weight="normal" fill="#2b2b2b" stroke="#2b2b2b" stroke-width="0.04" >ns</text>
<circle cx="414.5" cy="209.2" r="0.95" fill="#333"/>
<circle cx="417.5" cy="209.2" r="0.95" fill="#333"/>
<circle cx="420.5" cy="209.2" r="0.95" fill="#333"/>
<circle cx="398.9" cy="219.8" r="0.95" fill="#333"/>
<circle cx="401.9" cy="219.8" r="0.95" fill="#333"/>
<circle cx="404.9" cy="219.8" r="0.95" fill="#333"/>
<circle cx="417.5" cy="219.8" r="0.95" fill="#333"/>
<polyline points="452.5,218.1 452.5,212.6 499.2,212.6 499.2,214.4" fill="none" stroke="#333" stroke-width="1"/>
<line x1="467.6" y1="212.6" x2="467.6" y2="213.8" stroke="#333" stroke-width="0.9"/>
<line x1="483.1" y1="212.6" x2="483.1" y2="213.8" stroke="#333" stroke-width="0.9"/>
<polyline points="467.6,224.8 467.6,223.4 499.2,223.4 499.2,228.6" fill="none" stroke="#333" stroke-width="1"/>
<line x1="483.1" y1="223.4" x2="483.1" y2="224.6" stroke="#333" stroke-width="0.9"/>
<text class="h" x="460.05" y="210.6" font-size="6.6" text-anchor="middle" font-weight="normal" fill="#2b2b2b" stroke="#2b2b2b" stroke-width="0.04" >ns</text>
<text class="h" x="475.35" y="210.6" font-size="6.6" text-anchor="middle" font-weight="normal" fill="#2b2b2b" stroke="#2b2b2b" stroke-width="0.04" >ns</text>
<circle cx="488.15" cy="209.2" r="0.95" fill="#333"/>
<circle cx="491.15" cy="209.2" r="0.95" fill="#333"/>
<circle cx="494.15" cy="209.2" r="0.95" fill="#333"/>
<circle cx="472.35" cy="219.8" r="0.95" fill="#333"/>
<circle cx="475.35" cy="219.8" r="0.95" fill="#333"/>
<circle cx="478.35" cy="219.8" r="0.95" fill="#333"/>
<circle cx="491.15" cy="219.8" r="0.95" fill="#333"/>
<polyline points="356.6,206.6 356.6,201.2 499.2,201.2 499.2,202.8" fill="none" stroke="#333" stroke-width="1"/>
<line x1="425.3" y1="201.2" x2="425.3" y2="202.6" stroke="#333" stroke-width="0.9"/>
<text class="h" x="390.95" y="199.1" font-size="6.6" text-anchor="middle" font-weight="normal" fill="#2b2b2b" stroke="#2b2b2b" stroke-width="0.04" >ns</text>
<text class="h" x="462.25" y="199.1" font-size="6.6" text-anchor="middle" font-weight="normal" fill="#2b2b2b" stroke="#2b2b2b" stroke-width="0.04" >ns</text>
<rect x="296.9" y="325" width="6" height="5.9" fill="#d2d2d2" />
<text class="h" x="306.4" y="330.3" font-size="6.4" text-anchor="start" font-weight="normal" fill="#2b2b2b" stroke="#2b2b2b" stroke-width="0.03" textLength="18.8" lengthAdjust="spacingAndGlyphs" >c-BiTE</text>
<rect x="332.2" y="325" width="6" height="5.9" fill="#4a566a" />
<text class="h" x="341.4" y="330.3" font-size="6.4" text-anchor="start" font-weight="normal" fill="#2b2b2b" stroke="#2b2b2b" stroke-width="0.03" textLength="50.6" lengthAdjust="spacingAndGlyphs" >c-BiTE + cGAMP</text>
<rect x="398.5" y="325" width="6" height="5.9" fill="#2aa6de" />
<text class="h" x="407.5" y="330.3" font-size="6.4" text-anchor="start" font-weight="normal" fill="#2b2b2b" stroke="#2b2b2b" stroke-width="0.03" textLength="28.8" lengthAdjust="spacingAndGlyphs" >AMG 330</text>
<rect x="443" y="325" width="6" height="5.9" fill="#c8102e" />
<text class="h" x="452.5" y="330.3" font-size="6.4" text-anchor="start" font-weight="normal" fill="#2b2b2b" stroke="#2b2b2b" stroke-width="0.03" textLength="60" lengthAdjust="spacingAndGlyphs" >AMG 330 + cGAMP</text>
</g>
</svg>
</body></html>
